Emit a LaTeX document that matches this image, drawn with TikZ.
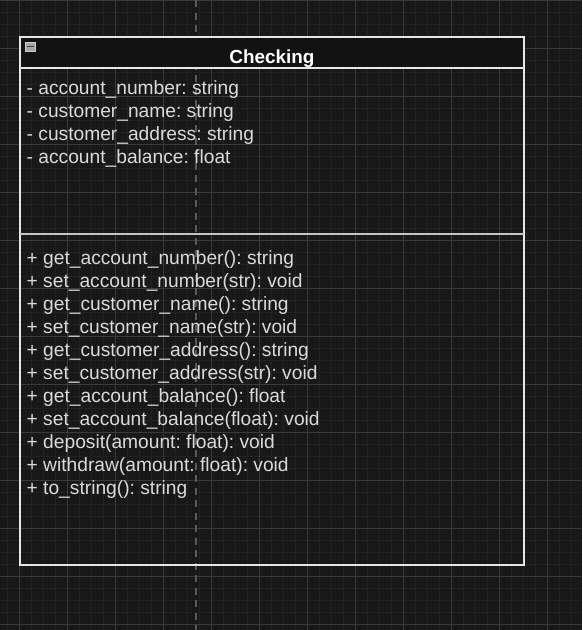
\documentclass[tikz,border=0pt]{standalone}
\usepackage{fontspec}
\setmainfont{Liberation Sans}
\usepackage{tikz}
\frenchspacing

\definecolor{bgcol}{HTML}{181818}
\definecolor{minorcol}{HTML}{212121}
\definecolor{majorcol}{HTML}{3A3A3A}
\definecolor{guidecol}{HTML}{5A5A5A}
\definecolor{headcol}{HTML}{121212}
\definecolor{linecol}{HTML}{E6E6E6}
\definecolor{txtcol}{HTML}{DADADA}

\tikzset{
  member/.style={anchor=base west, inner sep=0pt, text=txtcol,
    font=\fontsize{19.2}{23}\selectfont},
  classname/.style={anchor=base, inner sep=0pt, text=white,
    font=\fontsize{18.9}{23}\selectfont\bfseries},
}

\begin{document}
\begin{tikzpicture}[x=1pt,y=-1pt]
  \fill[bgcol] (0,0) rectangle (582,630);
  \useasboundingbox (0,0) rectangle (582,630);
  % grid
  \foreach \x in {7.5,19.5,...,583.5} \draw[minorcol,line width=1pt] (\x,0) -- (\x,630);
  \foreach \y in {0,12,...,630} \draw[minorcol,line width=1pt] (0,\y) -- (582,\y);
  \foreach \x in {19.5,67.5,...,583.5} \draw[majorcol,line width=1pt] (\x,0) -- (\x,630);
  \foreach \y in {0,48,...,630} \draw[majorcol,line width=1pt] (0,\y) -- (582,\y);
  \draw[guidecol,line width=2pt,dash pattern=on 7pt off 5.5pt] (195.5,0) -- (195.5,630);

  % class box
  \coordinate (tl) at (20,37);
  \coordinate (br) at (524,565);
  \coordinate (h1) at (20,68);
  \coordinate (h2) at (524,68);
  \coordinate (s1) at (20,234);
  \coordinate (s2) at (524,234);
  \fill[headcol] (tl) rectangle (h2);
  \draw[linecol,line width=1.3pt] (tl) rectangle (br);
  \draw[linecol,line width=1.3pt] (h1) -- (h2);
  \draw[linecol!85!black,line width=1.3pt] (s1) -- (s2);

  % collapse icon
  \node(icon) at (30,46.5)[draw=gray!40,fill=gray!70,minimum width=10pt,minimum height=9pt,inner sep=0pt]{};
  \draw[black!75,line width=1.8pt] (26.5,46.5) -- (33.5,46.5);

  \node(name) at (272,63)[classname]{Checking};

  \node(a1) at (26.5,94)[member]{- account\_number: string};
  \node(a2) at (26.5,117)[member]{- customer\_name: string};
  \node(a3) at (26.5,140)[member]{- customer\_address: string};
  \node(a4) at (26.5,163)[member]{- account\_balance: float};

  \node(m1) at (26.5,264)[member]{+ get\_account\_number(): string};
  \node(m2) at (26.5,287)[member]{+ set\_account\_number(str): void};
  \node(m3) at (26.5,310)[member]{+ get\_customer\_name(): string};
  \node(m4) at (26.5,333)[member]{+ set\_customer\_name(str): void};
  \node(m5) at (26.5,356)[member]{+ get\_customer\_address(): string};
  \node(m6) at (26.5,379)[member]{+ set\_customer\_address(str): void};
  \node(m7) at (26.5,402)[member]{+ get\_account\_balance(): float};
  \node(m8) at (26.5,425)[member]{+ set\_account\_balance(float): void};
  \node(m9) at (26.5,448)[member]{+ deposit(amount: float): void};
  \node(m10) at (26.5,471)[member]{+ withdraw(amount: float): void};
  \node(m11) at (26.5,494)[member]{+ to\_string(): string};
\end{tikzpicture}
\end{document}
